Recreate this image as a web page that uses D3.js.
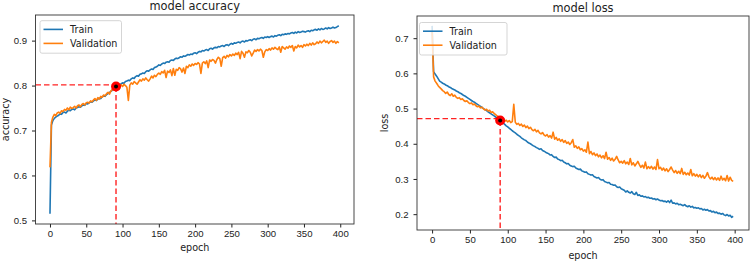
<!DOCTYPE html>
<html>
<head>
<meta charset="utf-8">
<script src="https://cdn.jsdelivr.net/npm/d3@7"></script>
<style>
  body { margin: 0; background: #fff; }
  svg { display: block; font-family: "DejaVu Sans", sans-serif; }
  .tick text { font-size: 9.6px; fill: #222; }
  .tick line { stroke: #222; }
</style>
</head>
<body>
<div id="chart"></div>
<script>
// epochs sampled every 2 steps, 0..398
var epochs = d3.range(0, 400, 2);
var xTicks = [0, 50, 100, 150, 200, 250, 300, 350, 400];
var seriesNames = ["Train", "Validation"];

var accTicks = [0.5, 0.6, 0.7, 0.8, 0.9];
var lossTicks = [0.2, 0.3, 0.4, 0.5, 0.6, 0.7];

var accTrain = [
  0.515, 0.712, 0.722, 0.727, 0.730, 0.732,
  0.734, 0.737, 0.736, 0.740, 0.741, 0.739, 0.743, 0.745, 0.744, 0.747, 0.748, 0.746, 0.750, 0.751, 0.753, 0.752, 0.755, 0.757, 0.756, 0.760,
  0.759, 0.762, 0.764, 0.763, 0.766, 0.768, 0.767, 0.770, 0.772, 0.771, 0.775, 0.777, 0.776, 0.780, 0.782, 0.785, 0.787, 0.790, 0.793, 0.797,
  0.799, 0.801, 0.800, 0.804, 0.806, 0.805, 0.809, 0.810, 0.812, 0.811, 0.815, 0.817, 0.816, 0.820, 0.822, 0.821, 0.825, 0.826, 0.828, 0.827, 0.831, 0.833, 0.832, 0.835, 0.837, 0.836, 0.840, 0.841, 0.843, 0.846,
  0.845, 0.848, 0.850, 0.849, 0.852, 0.853, 0.852, 0.856, 0.857, 0.856, 0.859, 0.861, 0.860, 0.862, 0.864, 0.863, 0.866, 0.865, 0.867, 0.869, 0.868, 0.870, 0.869, 0.872, 0.873,
  0.871, 0.874, 0.876, 0.875, 0.878, 0.877, 0.879, 0.880, 0.878, 0.882, 0.883, 0.881, 0.884, 0.885, 0.884, 0.887, 0.886, 0.888, 0.889, 0.887, 0.890, 0.891, 0.889, 0.892, 0.894,
  0.892, 0.895, 0.894, 0.896, 0.897, 0.895, 0.898, 0.899, 0.897, 0.900, 0.899, 0.901, 0.902, 0.900, 0.903, 0.904, 0.902, 0.905, 0.904, 0.906, 0.907, 0.905, 0.908, 0.907, 0.909,
  0.907, 0.909, 0.910, 0.908, 0.911, 0.910, 0.912, 0.913, 0.911, 0.914, 0.913, 0.915, 0.914, 0.916, 0.915, 0.917, 0.918, 0.916, 0.919, 0.917, 0.920, 0.918, 0.919, 0.921, 0.920,
  0.919, 0.921, 0.922, 0.920, 0.923, 0.922, 0.924, 0.925, 0.923, 0.926, 0.924, 0.927, 0.925, 0.926, 0.928, 0.926, 0.929, 0.927, 0.928, 0.930, 0.928, 0.929, 0.931, 0.933
];

var accVal = [
  0.618, 0.718, 0.730, 0.736, 0.733, 0.739,
  0.741, 0.738, 0.744, 0.742, 0.747, 0.745, 0.750, 0.746, 0.752, 0.749, 0.751, 0.754, 0.750, 0.755, 0.757, 0.753, 0.758, 0.760, 0.757, 0.762,
  0.763, 0.761, 0.766, 0.764, 0.768, 0.771, 0.767, 0.773, 0.770, 0.776, 0.774, 0.779, 0.777, 0.782, 0.785, 0.781, 0.788, 0.792, 0.790, 0.796,
  0.793, 0.799, 0.796, 0.802, 0.798, 0.803, 0.800, 0.796, 0.767, 0.801, 0.806, 0.803, 0.809, 0.806, 0.803, 0.808, 0.813, 0.810, 0.815, 0.812, 0.817, 0.813, 0.810, 0.815, 0.821, 0.817, 0.823, 0.820, 0.825, 0.828,
  0.825, 0.831, 0.828, 0.834, 0.818, 0.832, 0.829, 0.835, 0.822, 0.838, 0.823, 0.836, 0.834, 0.840, 0.837, 0.830, 0.839, 0.827, 0.843, 0.840, 0.846, 0.843, 0.848, 0.845, 0.849,
  0.847, 0.851, 0.848, 0.827, 0.850, 0.853, 0.849, 0.855, 0.840, 0.857, 0.854, 0.858, 0.856, 0.850, 0.858, 0.863, 0.860, 0.843, 0.862, 0.865, 0.861, 0.867, 0.864, 0.869, 0.866,
  0.870, 0.867, 0.872, 0.869, 0.874, 0.860, 0.876, 0.872, 0.863, 0.875, 0.873, 0.878, 0.874, 0.866, 0.872, 0.879, 0.876, 0.880, 0.877, 0.881, 0.878, 0.863, 0.875, 0.880, 0.878,
  0.882, 0.879, 0.884, 0.881, 0.885, 0.882, 0.880, 0.886, 0.874, 0.887, 0.884, 0.881, 0.886, 0.883, 0.888, 0.885, 0.889, 0.877, 0.887, 0.884, 0.890, 0.886, 0.889, 0.885, 0.891,
  0.888, 0.892, 0.889, 0.894, 0.890, 0.895, 0.891, 0.893, 0.897, 0.894, 0.899, 0.895, 0.898, 0.901, 0.896, 0.899, 0.894, 0.898, 0.900, 0.896, 0.899, 0.894, 0.898, 0.895
];

var lossTrain = [
  0.735, 0.605, 0.598, 0.592, 0.585, 0.578,
  0.575, 0.572, 0.570, 0.567, 0.565, 0.562, 0.560, 0.557, 0.555, 0.553, 0.550, 0.548, 0.545, 0.543, 0.540, 0.537, 0.535, 0.532, 0.529, 0.526,
  0.523, 0.520, 0.518, 0.515, 0.512, 0.509, 0.506, 0.503, 0.500, 0.497, 0.494, 0.491, 0.488, 0.485, 0.482, 0.479, 0.476, 0.473, 0.470, 0.466,
  0.462, 0.459, 0.455, 0.451, 0.448, 0.444, 0.441, 0.437, 0.434, 0.431, 0.427, 0.424, 0.421, 0.417, 0.414, 0.411, 0.409, 0.405, 0.402, 0.400, 0.397, 0.394, 0.392, 0.389, 0.387, 0.384, 0.386, 0.381, 0.379, 0.376,
  0.374, 0.372, 0.368, 0.369, 0.364, 0.361, 0.362, 0.357, 0.355, 0.352, 0.353, 0.348, 0.346, 0.343, 0.344, 0.339, 0.337, 0.335, 0.336, 0.331, 0.329, 0.327, 0.328, 0.323, 0.321,
  0.319, 0.320, 0.315, 0.313, 0.311, 0.312, 0.307, 0.305, 0.303, 0.304, 0.299, 0.297, 0.298, 0.293, 0.291, 0.289, 0.290, 0.285, 0.284, 0.282, 0.283, 0.278, 0.276, 0.277, 0.272,
  0.270, 0.268, 0.263, 0.266, 0.262, 0.260, 0.264, 0.258, 0.256, 0.262, 0.253, 0.255, 0.251, 0.252, 0.249, 0.250, 0.247, 0.248, 0.245, 0.246, 0.243, 0.244, 0.241, 0.243, 0.240,
  0.238, 0.239, 0.236, 0.237, 0.234, 0.238, 0.233, 0.240, 0.231, 0.232, 0.229, 0.231, 0.227, 0.228, 0.226, 0.224, 0.227, 0.223, 0.221, 0.224, 0.220, 0.222, 0.218, 0.219, 0.217,
  0.218, 0.215, 0.216, 0.212, 0.214, 0.211, 0.213, 0.209, 0.210, 0.206, 0.208, 0.204, 0.206, 0.202, 0.203, 0.200, 0.202, 0.198, 0.196, 0.199, 0.195, 0.197, 0.191, 0.194
];

var lossVal = [
  0.720, 0.590, 0.578, 0.572, 0.565, 0.560,
  0.556, 0.551, 0.548, 0.543, 0.547, 0.540, 0.537, 0.542, 0.535, 0.538, 0.532, 0.529, 0.531, 0.526, 0.528, 0.523, 0.520, 0.522, 0.517, 0.514,
  0.516, 0.511, 0.513, 0.508, 0.505, 0.507, 0.502, 0.504, 0.499, 0.496, 0.498, 0.493, 0.495, 0.489, 0.491, 0.486, 0.483, 0.479, 0.476, 0.472,
  0.468, 0.471, 0.464, 0.467, 0.462, 0.466, 0.460, 0.463, 0.512, 0.461, 0.455, 0.458, 0.452, 0.456, 0.449, 0.453, 0.446, 0.450, 0.443, 0.447, 0.440, 0.437, 0.441, 0.434, 0.438, 0.431, 0.428, 0.432, 0.425, 0.422,
  0.426, 0.419, 0.423, 0.416, 0.433, 0.413, 0.418, 0.410, 0.414, 0.407, 0.412, 0.404, 0.409, 0.401, 0.405, 0.398, 0.403, 0.412, 0.390, 0.394, 0.387, 0.391, 0.383, 0.386, 0.379,
  0.383, 0.376, 0.405, 0.372, 0.378, 0.369, 0.374, 0.366, 0.371, 0.363, 0.368, 0.360, 0.366, 0.358, 0.376, 0.356, 0.361, 0.353, 0.359, 0.351, 0.356, 0.364, 0.354, 0.346, 0.350,
  0.345, 0.352, 0.343, 0.348, 0.341, 0.358, 0.340, 0.346, 0.337, 0.343, 0.350, 0.341, 0.333, 0.339, 0.331, 0.348, 0.329, 0.335, 0.330, 0.336, 0.328, 0.334, 0.327, 0.355, 0.329,
  0.333, 0.325, 0.331, 0.323, 0.329, 0.321, 0.327, 0.334, 0.325, 0.318, 0.324, 0.316, 0.322, 0.315, 0.330, 0.313, 0.319, 0.312, 0.317, 0.311, 0.327, 0.309, 0.315, 0.308, 0.313,
  0.306, 0.312, 0.304, 0.310, 0.302, 0.308, 0.318, 0.306, 0.300, 0.305, 0.298, 0.304, 0.297, 0.303, 0.296, 0.308, 0.297, 0.302, 0.295, 0.310, 0.294, 0.305, 0.296, 0.293
];

// highlighted point and its guide lines: [epoch, value]
var accGuide = [91, 0.8015], accPoint = [91, 0.798];
var lossGuide = [90, 0.4715], lossPoint = [90, 0.466];

var colors = ["#1f77b4", "#ff7f0e"];

var svg = d3.select("#chart").append("svg")
    .attr("width", 754)
    .attr("height", 262);

function drawPanel(prop) {
    var x = d3.scaleLinear().domain([-19.95, 418.95]).range([prop.left, prop.right]);
    var y = d3.scaleLinear().domain(prop.yDomain).range([prop.bottom, prop.top]);
    var g = svg.append("g");

    // axes
    g.append("g")
        .attr("transform", "translate(0," + prop.bottom + ")")
        .call(d3.axisBottom(x).tickValues(xTicks).tickSize(3.5).tickPadding(prop.xPad))
        .call(function (a) { a.select(".domain").remove(); });
    g.append("g")
        .attr("transform", "translate(" + prop.left + ",0)")
        .call(d3.axisLeft(y).tickValues(prop.yTicks).tickSize(3.5).tickPadding(5).tickFormat(d3.format(".1f")))
        .call(function (a) { a.select(".domain").remove(); });

    // lines
    var line = d3.line()
        .x(function (d, i) { return x(epochs[i]); })
        .y(function (d) { return y(d); });
    prop.series.forEach(function (s, i) {
        g.append("path")
            .datum(s)
            .attr("fill", "none")
            .attr("stroke", colors[i])
            .attr("stroke-width", 1.6)
            .attr("stroke-linejoin", "round")
            .attr("d", line);
    });

    // red guide lines
    g.append("line")
        .attr("x1", prop.left).attr("x2", x(prop.guide[0]))
        .attr("y1", y(prop.guide[1])).attr("y2", y(prop.guide[1]))
        .attr("stroke", "#f22").attr("stroke-width", 1.4)
        .attr("stroke-dasharray", "5.5,3");
    g.append("line")
        .attr("x1", x(prop.guide[0])).attr("x2", x(prop.guide[0]))
        .attr("y1", y(prop.point[1])).attr("y2", prop.bottom)
        .attr("stroke", "#f22").attr("stroke-width", 1.4)
        .attr("stroke-dasharray", "5.5,3");
    g.append("circle")
        .attr("cx", x(prop.point[0])).attr("cy", y(prop.point[1]))
        .attr("r", 5).attr("fill", "#f00");
    g.append("circle")
        .attr("cx", x(prop.point[0])).attr("cy", y(prop.point[1]))
        .attr("r", 2).attr("fill", "#000");

    // frame
    g.append("rect")
        .attr("x", prop.left).attr("y", prop.top)
        .attr("width", prop.right - prop.left).attr("height", prop.bottom - prop.top)
        .attr("fill", "none").attr("stroke", "#333").attr("stroke-width", 0.9);

    // legend
    var lg = g.append("g").attr("transform", "translate(" + prop.legend[0] + "," + prop.legend[1] + ")");
    lg.append("rect")
        .attr("width", prop.legendW).attr("height", 32.5).attr("rx", 2)
        .attr("fill", "#fff").attr("fill-opacity", 0.8)
        .attr("stroke", "#d0d0d0").attr("stroke-width", 0.9);
    seriesNames.forEach(function (name, i) {
        lg.append("line")
            .attr("x1", 3.5).attr("x2", 23)
            .attr("y1", 8.7 + i * 14).attr("y2", 8.7 + i * 14)
            .attr("stroke", colors[i]).attr("stroke-width", 1.6);
        lg.append("text")
            .attr("x", 30).attr("y", 8.7 + i * 14)
            .attr("dy", "0.35em")
            .attr("font-size", 9.6).attr("fill", "#222")
            .text(name);
    });

    // titles and labels
    var cx = (prop.left + prop.right) / 2;
    g.append("text")
        .attr("x", cx).attr("y", prop.titleY)
        .attr("text-anchor", "middle").attr("font-size", 11.4).attr("fill", "#222")
        .text(prop.title);
    g.append("text")
        .attr("x", cx).attr("y", prop.xLabelY)
        .attr("text-anchor", "middle").attr("font-size", 9.6).attr("fill", "#222")
        .text("epoch");
    g.append("text")
        .attr("transform", "translate(" + prop.yLabelX + "," + ((prop.top + prop.bottom) / 2) + ") rotate(-90)")
        .attr("text-anchor", "middle").attr("font-size", 9.6).attr("fill", "#222")
        .text(prop.yLabel);
}

drawPanel({
    left: 35.5, right: 354, top: 15, bottom: 224,
    yDomain: [0.492, 0.957], yTicks: accTicks, xPad: 2.5,
    series: [accTrain, accVal], guide: accGuide, point: accPoint,
    legend: [40, 20.7], legendW: 81.5,
    title: "model accuracy", titleY: 10, xLabelY: 250.5, yLabel: "accuracy", yLabelX: 8.5
});

drawPanel({
    left: 417, right: 749, top: 16, bottom: 230,
    yDomain: [0.155, 0.763], yTicks: lossTicks, xPad: 3,
    series: [lossTrain, lossVal], guide: lossGuide, point: lossPoint,
    legend: [419.5, 22.5], legendW: 87.5,
    title: "model loss", titleY: 12, xLabelY: 258.5, yLabel: "loss", yLabelX: 388
});
</script>
</body>
</html>
